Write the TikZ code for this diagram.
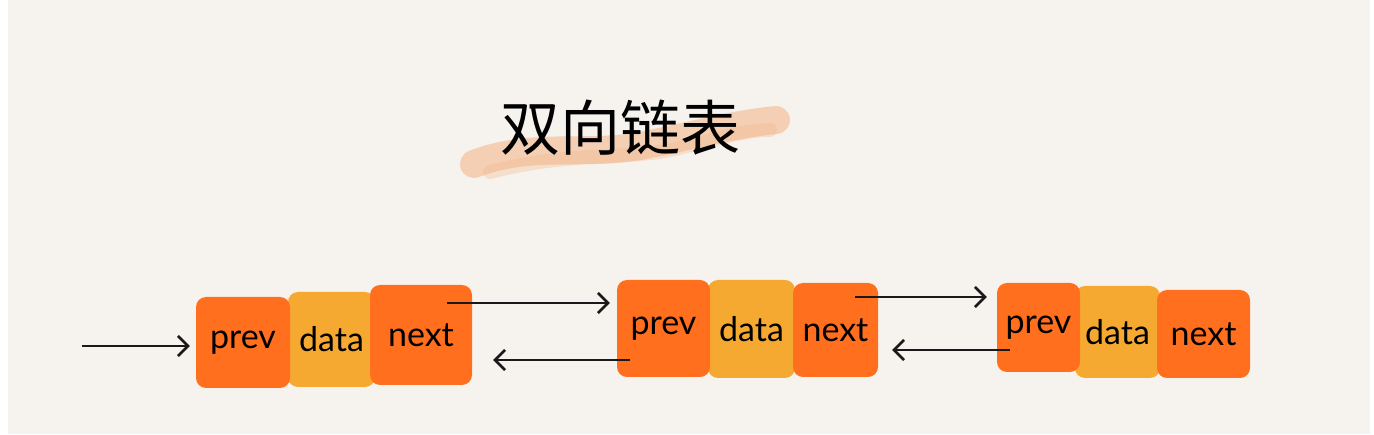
\documentclass[tikz,border=0pt]{standalone}
\usepackage{fontspec}
\setmainfont{Lato}
\newfontfamily\cjk{Noto Sans CJK SC}
\usetikzlibrary{arrows.meta}
\definecolor{bgc}{HTML}{F6F3EE}
\definecolor{orng}{HTML}{FF6F1E}
\definecolor{yelo}{HTML}{F6A931}
\definecolor{brush}{HTML}{F3B88E}
\tikzset{
  x=1pt,y=1pt,
  cell/.style={rounded corners=10pt, inner sep=0pt, font=\fontsize{34}{34}\selectfont, text=black},
  ptr/.style={cell, fill=orng},
  dat/.style={cell, fill=yelo},
  arr/.style={line width=2.8pt, draw=black!90, -{Straight Barb[length=10pt,width=20pt,line width=2.6pt]}},
}
\begin{document}
\begin{tikzpicture}
\useasboundingbox (0,0) rectangle (1374,434);
\fill[white] (0,0) rectangle (1374,434);
\fill[bgc] (8,0) rectangle (1370,434);
% title brush
\draw[brush, line width=28pt, line cap=round, opacity=0.6]
  (474,270) .. controls (530,292) and (585,278) .. (640,288) .. controls (700,300) and (735,310) .. (776,314);
\draw[brush, line width=14pt, line cap=round, opacity=0.35]
  (490,262) .. controls (560,280) and (610,276) .. (660,282) .. controls (710,292) and (740,304) .. (770,304);
\node[font=\cjk\fontsize{60}{60}\selectfont] (title) at (620,306) {双向链表};
% node 1
\node[dat, minimum width=87pt, minimum height=95pt] (data1) at (331.5,94.5) {data};
\node[ptr, minimum width=94pt, minimum height=91pt] (prev1) at (243,91.5) {prev};
\node[ptr, minimum width=102pt, minimum height=100pt] (next1) at (421,99) {next};
% node 2
\node[dat, minimum width=87pt, minimum height=98pt] (data2) at (751.5,105) {data};
\node[ptr, minimum width=93pt, minimum height=97pt] (prev2) at (663.5,105.5) {prev};
\node[ptr, minimum width=85pt, minimum height=94pt] (next2) at (835.5,104) {next};
% node 3
\node[dat, minimum width=85pt, minimum height=92pt] (data3) at (1117.5,102) {data};
\node[ptr, minimum width=83pt, minimum height=89pt] (prev3) at (1038.5,106.5) {prev};
\node[ptr, minimum width=93pt, minimum height=88pt] (next3) at (1203.5,100) {next};
% pointers
\coordinate (head) at (82,88);
\draw[arr, shorten >=6pt] (head) -- (head -| prev1.west);
\coordinate (n1o) at (447,131);
\draw[arr, shorten >=7pt] (n1o) -- (n1o -| prev2.west);
\coordinate (p2o) at (630,74);
\draw[arr, shorten >=21pt] (p2o) -- (p2o -| next1.east);
\coordinate (n2o) at (855,137);
\draw[arr, shorten >=10pt] (n2o) -- (n2o -| prev3.west);
\coordinate (p3o) at (1010,84);
\draw[arr, shorten >=14pt] (p3o) -- (p3o -| next2.east);
\end{tikzpicture}
\end{document}
